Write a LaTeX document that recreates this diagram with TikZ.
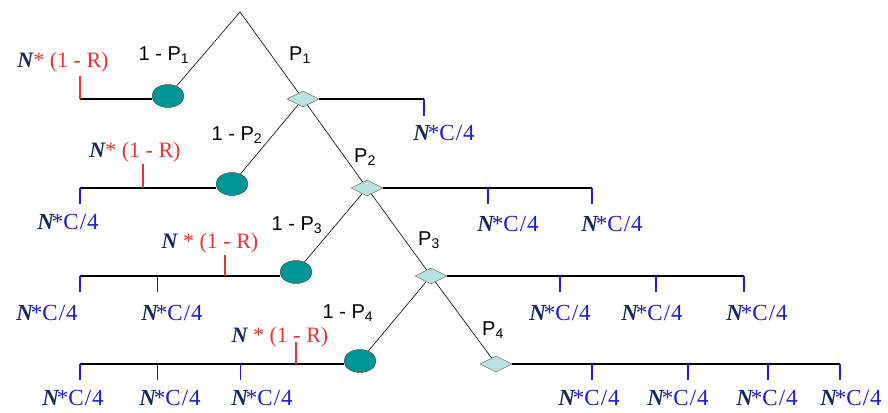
\documentclass[tikz,border=0pt]{standalone}
\usepackage{fontspec}
\setmainfont{Liberation Serif}
\setsansfont{Liberation Sans}
\usetikzlibrary{positioning,shapes.geometric}
\definecolor{defteal}{HTML}{009696}
\definecolor{survcyan}{HTML}{B9E2E2}
\definecolor{cashblue}{HTML}{1C1CD2}
\definecolor{navyink}{HTML}{14285A}
\definecolor{lossred}{HTML}{F03030}
\tikzset{
    every node/.style={inner sep=0pt},
    defnode/.style={ellipse,draw=black!75,fill=defteal,minimum width=32pt,minimum height=23pt},
    survnode/.style={diamond,draw=black!60,fill=survcyan,minimum width=32pt,minimum height=16pt},
    branch/.style={draw=black,line width=0.6pt},
    leg/.style={draw=black,line width=1.4pt},
    cashtick/.style={draw=cashblue,line width=2pt},
    thintick/.style={draw=cashblue,line width=0.9pt},
    losstick/.style={draw=lossred,line width=2pt},
    prob/.style={font=\sffamily\fontsize{20}{20}\selectfont},
    cash/.style={font=\fontsize{23}{23}\selectfont,text=cashblue},
    loss/.style={font=\fontsize{22}{22}\selectfont,text=lossred}
}
\newcommand{\nnot}{\textcolor{navyink}{\bfseries\itshape N}}
\newcommand{\coupon}{\nnot\kern-2pt*C\kern1pt/\kern1pt4}

\begin{document}
\begin{tikzpicture}[x=1pt,y=-1pt]
\useasboundingbox (0,0) rectangle (888,412);

% tree skeleton
\coordinate (apex) at (240,12);
\node[defnode] (def1) at (168,96) {};
\node[survnode] (surv1) at (303,99) {};
\node[defnode] (def2) at (232,184) {};
\node[survnode] (surv2) at (367,188) {};
\node[defnode] (def3) at (296,272) {};
\node[survnode] (surv3) at (431,276) {};
\node[defnode] (def4) at (360,361) {};
\node[survnode] (surv4) at (496,364) {};

\draw[branch] (apex) -- (def1);
\draw[branch] (apex) -- (surv1);
\draw[branch] (surv1) -- (def2);
\draw[branch] (surv1) -- (surv2);
\draw[branch] (surv2) -- (def3);
\draw[branch] (surv2) -- (surv3);
\draw[branch] (surv3) -- (def4);
\draw[branch] (surv3) -- (surv4);

% branch probabilities
\node[prob] (q1) at (164,55) {1 - P\textsubscript{1}};
\node[prob] (p1) at (300,55) {P\textsubscript{1}};
\node[prob] (q2) at (237,135) {1 - P\textsubscript{2}};
\node[prob] (p2) at (365,157) {P\textsubscript{2}};
\node[prob] (q3) at (297,225) {1 - P\textsubscript{3}};
\node[prob] (p3) at (429,240) {P\textsubscript{3}};
\node[prob] (q4) at (348,313) {1 - P\textsubscript{4}};
\node[prob] (p4) at (493,330) {P\textsubscript{4}};

% default legs (left)
\coordinate (dl1) at (80,99);
\coordinate (dl2) at (80,188);
\coordinate (dl3) at (80,276);
\coordinate (dl4) at (80,364);
\draw[leg] (dl1) -- (dl1 -| def1.west);
\draw[leg] (dl2) -- (dl2 -| def2.west);
\draw[leg] (dl3) -- (dl3 -| def3.west);
\draw[leg] (dl4) -- (dl4 -| def4.west);

% survival legs (right)
\coordinate (sr1) at (424,99);
\coordinate (sr2) at (592,188);
\coordinate (sr3) at (744,276);
\coordinate (sr4) at (840,364);
\draw[leg] (surv1.east) -- (sr1);
\draw[leg] (surv2.east) -- (sr2);
\draw[leg] (surv3.east) -- (sr3);
\draw[leg] (surv4.east) -- (sr4);

% recovery ticks
\draw[losstick] (dl1) -- ++(0,-23);
\draw[losstick] (143,188) -- ++(0,-24);
\draw[losstick] (225,276) -- ++(0,-21);
\draw[losstick] (296,364) -- ++(0,-22);

% coupon ticks
\draw[cashtick] (sr1) -- ++(0,17);
\draw[cashtick] (dl2) -- ++(0,16);
\draw[cashtick] (488,188) -- ++(0,16);
\draw[cashtick] (sr2) -- ++(0,16);
\draw[cashtick] (dl3) -- ++(0,16);
\draw[thintick] (157,276) -- ++(0,16);
\draw[cashtick] (560,276) -- ++(0,16);
\draw[cashtick] (656,276) -- ++(0,16);
\draw[cashtick] (sr3) -- ++(0,16);
\draw[cashtick] (dl4) -- ++(0,16);
\draw[thintick] (157,364) -- ++(0,16);
\draw[thintick] (240,364) -- ++(0,16);
\draw[cashtick] (592,364) -- ++(0,16);
\draw[cashtick] (688,364) -- ++(0,16);
\draw[cashtick] (768,364) -- ++(0,16);
\draw[cashtick] (sr4) -- ++(0,16);

% recovery amounts
\node[loss] (rec1) at (63,62) {\nnot* (1 - R)};
\node[loss] (rec2) at (135,152) {\nnot* (1 - R)};
\node[loss] (rec3) at (210,243) {\nnot{} * (1 - R)};
\node[loss] (rec4) at (280,337) {\nnot{} * (1 - R)};

% coupon amounts
\node[cash] (c11) at (444,133) {\coupon};
\node[cash] (c21) at (68,222) {\coupon};
\node[cash] (c22) at (508,224) {\coupon};
\node[cash] (c23) at (612,224) {\coupon};
\node[cash] (c31) at (47,313) {\coupon};
\node[cash] (c32) at (172,313) {\coupon};
\node[cash] (c33) at (560,313) {\coupon};
\node[cash] (c34) at (652,313) {\coupon};
\node[cash] (c35) at (757,313) {\coupon};
\node[cash] (c41) at (73,398) {\coupon};
\node[cash] (c42) at (170,398) {\coupon};
\node[cash] (c43) at (262,398) {\coupon};
\node[cash] (c44) at (589,398) {\coupon};
\node[cash] (c45) at (678,398) {\coupon};
\node[cash] (c46) at (767,398) {\coupon};
\node[cash] (c47) at (851,398) {\coupon};
\end{tikzpicture}
\end{document}
